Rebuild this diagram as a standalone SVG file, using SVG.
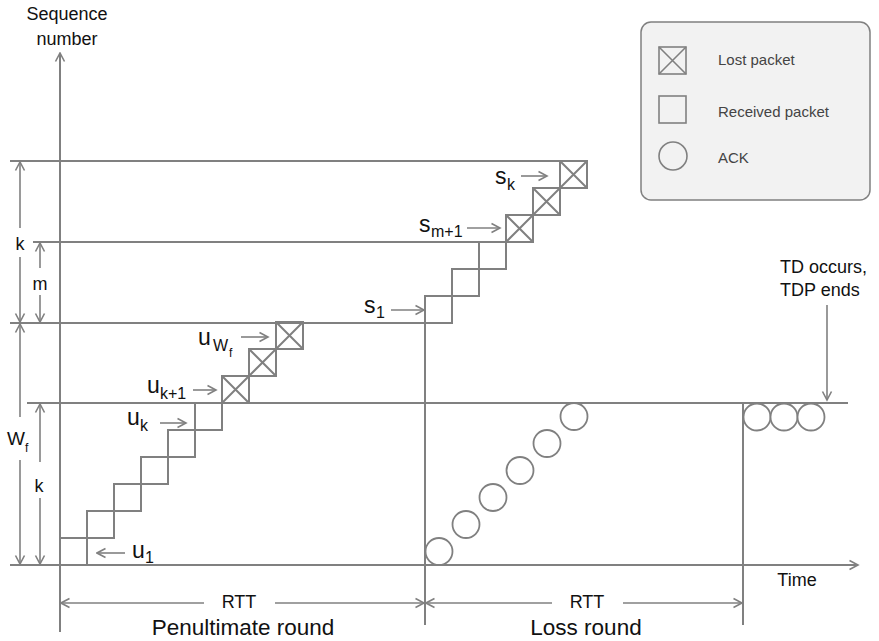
<svg xmlns="http://www.w3.org/2000/svg" xmlns:xlink="http://www.w3.org/1999/xlink" width="879" height="641" viewBox="0 0 879 641">
<style>
.ln{stroke:#808080;stroke-width:2;fill:none}
.ar{stroke:#808080;stroke-width:1.6;fill:none}
.pk{stroke:#808080;stroke-width:2;fill:none}
.ack{stroke:#808080;stroke-width:1.8;fill:#fff}
text{font-family:"Liberation Sans",Arial,sans-serif;fill:#111}
.lab{font-size:23px}
.sub{font-size:16px}
.dim{font-size:18px}
.leg{font-size:15px;fill:#444}
.big{font-size:22.5px}
</style>
<defs>
<marker id="ah" viewBox="0 0 12 12" refX="10.5" refY="6" markerWidth="12" markerHeight="12" markerUnits="userSpaceOnUse" orient="auto-start-reverse">
<path d="M2,1.5 L10.5,6 L2,10.5" fill="none" stroke="#808080" stroke-width="1.6"/>
</marker>
<g id="lost"><rect x="0" y="0" width="27" height="27"/><path d="M0,0 L27,27 M27,0 L0,27"/></g>
<rect id="recv" x="0" y="0" width="27" height="27"/>
</defs>
<rect width="879" height="641" fill="#fff"/>

<g id="connectors">
<line class="ln" x1="60" y1="632" x2="60" y2="53" marker-end="url(#ah)"/>
<line class="ln" x1="10" y1="565" x2="858" y2="565" marker-end="url(#ah)"/>
<line class="ln" x1="10" y1="161" x2="587" y2="161"/>
<line class="ln" x1="33" y1="242" x2="506" y2="242"/>
<line class="ln" x1="10" y1="323" x2="452" y2="323"/>
<line class="ln" x1="27" y1="403" x2="848" y2="403"/>
<line class="ln" x1="425" y1="323" x2="425" y2="625"/>
<line class="ln" x1="743" y1="403" x2="743" y2="625"/>
<line class="ar" x1="20" y1="228" x2="20" y2="162" marker-end="url(#ah)"/>
<line class="ar" x1="20" y1="257" x2="20" y2="322" marker-end="url(#ah)"/>
<line class="ar" x1="40" y1="268" x2="40" y2="243" marker-end="url(#ah)"/>
<line class="ar" x1="40" y1="295" x2="40" y2="322" marker-end="url(#ah)"/>
<line class="ar" x1="20" y1="417" x2="20" y2="324" marker-end="url(#ah)"/>
<line class="ar" x1="20" y1="460" x2="20" y2="564" marker-end="url(#ah)"/>
<line class="ar" x1="40" y1="462" x2="40" y2="404" marker-end="url(#ah)"/>
<line class="ar" x1="40" y1="498" x2="40" y2="564" marker-end="url(#ah)"/>
<line class="ar" x1="204" y1="603" x2="61" y2="603" marker-end="url(#ah)"/>
<line class="ar" x1="275" y1="603" x2="424" y2="603" marker-end="url(#ah)"/>
<line class="ar" x1="552" y1="603" x2="426" y2="603" marker-end="url(#ah)"/>
<line class="ar" x1="623" y1="603" x2="742" y2="603" marker-end="url(#ah)"/>
<line class="ar" x1="521" y1="176" x2="547" y2="176" marker-end="url(#ah)"/>
<line class="ar" x1="467" y1="228" x2="500" y2="228" marker-end="url(#ah)"/>
<line class="ar" x1="391" y1="310" x2="424" y2="310" marker-end="url(#ah)"/>
<line class="ar" x1="241" y1="337" x2="268" y2="337" marker-end="url(#ah)"/>
<line class="ar" x1="193" y1="390" x2="216" y2="390" marker-end="url(#ah)"/>
<line class="ar" x1="160" y1="423" x2="186" y2="423" marker-end="url(#ah)"/>
<line class="ar" x1="125" y1="553" x2="97" y2="553" marker-end="url(#ah)"/>
<line class="ar" x1="827" y1="305" x2="827" y2="400" marker-end="url(#ah)"/>
</g>

<g id="penultimate-packets" class="pk">
<use id="u1" xlink:href="#recv" x="60" y="538"/>
<use id="u2" xlink:href="#recv" x="87" y="511"/>
<use id="u3" xlink:href="#recv" x="114" y="484"/>
<use id="u4" xlink:href="#recv" x="141" y="457"/>
<use id="u5" xlink:href="#recv" x="168" y="430"/>
<use id="uk" xlink:href="#recv" x="195" y="403"/>
<use id="uk1" xlink:href="#lost" x="222" y="376"/>
<use id="uk2" xlink:href="#lost" x="249" y="349"/>
<use id="uwf" xlink:href="#lost" x="276" y="322"/>
</g>

<g id="loss-packets" class="pk">
<use id="s1" xlink:href="#recv" x="425" y="296"/>
<use id="s2" xlink:href="#recv" x="452" y="269"/>
<use id="sm" xlink:href="#recv" x="479" y="242"/>
<use id="sm1" xlink:href="#lost" x="506" y="215"/>
<use id="sm2" xlink:href="#lost" x="533" y="188"/>
<use id="sk" xlink:href="#lost" x="560" y="161"/>
</g>

<g id="loss-acks">
<circle class="ack" cx="439" cy="551.5" r="13.5"/>
<circle class="ack" cx="466" cy="524.5" r="13.5"/>
<circle class="ack" cx="493" cy="497.5" r="13.5"/>
<circle class="ack" cx="520" cy="470.5" r="13.5"/>
<circle class="ack" cx="547" cy="443.5" r="13.5"/>
<circle class="ack" cx="574" cy="416.5" r="13.5"/>
</g>

<g id="dup-acks">
<circle class="ack" cx="757" cy="417" r="13.5"/>
<circle class="ack" cx="784" cy="417" r="13.5"/>
<circle class="ack" cx="811" cy="417" r="13.5"/>
</g>

<g id="legend">
<rect x="641" y="22" width="229" height="178" rx="10" fill="#f2f2f2" stroke="#808080" stroke-width="1.5"/>
<use xlink:href="#lost" x="659" y="47" class="pk" style="stroke-width:1.6"/>
<use xlink:href="#recv" x="659" y="96" class="pk" style="stroke-width:1.6"/>
<circle cx="673" cy="156" r="14" fill="none" stroke="#808080" stroke-width="1.6"/>
<text class="leg" x="718" y="65">Lost packet</text>
<text class="leg" x="718" y="117">Received packet</text>
<text class="leg" x="718" y="163">ACK</text>
</g>

<g id="labels">
<text x="67" y="20" font-size="18" text-anchor="middle">Sequence</text>
<text x="67" y="45" font-size="18" text-anchor="middle">number</text>
<text x="797" y="586" font-size="18" text-anchor="middle">Time</text>
<text x="780" y="273" font-size="18">TD occurs,</text>
<text x="780" y="296" font-size="18">TDP ends</text>

<text class="dim" x="20" y="250" text-anchor="middle">k</text>
<text class="dim" x="40" y="290" text-anchor="middle">m</text>
<text x="7" y="445" font-size="19">W<tspan x="25" y="452" font-size="12">f</tspan></text>
<text class="dim" x="39" y="492" text-anchor="middle">k</text>

<text class="dim" x="239" y="608" text-anchor="middle">RTT</text>
<text class="dim" x="587" y="608" text-anchor="middle">RTT</text>
<text class="big" x="243" y="635" text-anchor="middle">Penultimate round</text>
<text class="big" x="586" y="635" text-anchor="middle">Loss round</text>

<text class="lab" x="495" y="184">s<tspan class="sub" x="507" y="190">k</tspan></text>
<text class="lab" x="419" y="232">s<tspan class="sub" x="431" y="237">m+1</tspan></text>
<text class="lab" x="364" y="313">s<tspan class="sub" x="376" y="318">1</tspan></text>
<text class="lab" x="198" y="345">u<tspan x="213" y="351" font-size="16">W</tspan><tspan x="229" y="357" font-size="12">f</tspan></text>
<text class="lab" x="147" y="393">u<tspan class="sub" x="160" y="399">k+1</tspan></text>
<text class="lab" x="127" y="425">u<tspan class="sub" x="140" y="431">k</tspan></text>
<text class="lab" x="132" y="558">u<tspan class="sub" x="145" y="563">1</tspan></text>
</g>
</svg>
